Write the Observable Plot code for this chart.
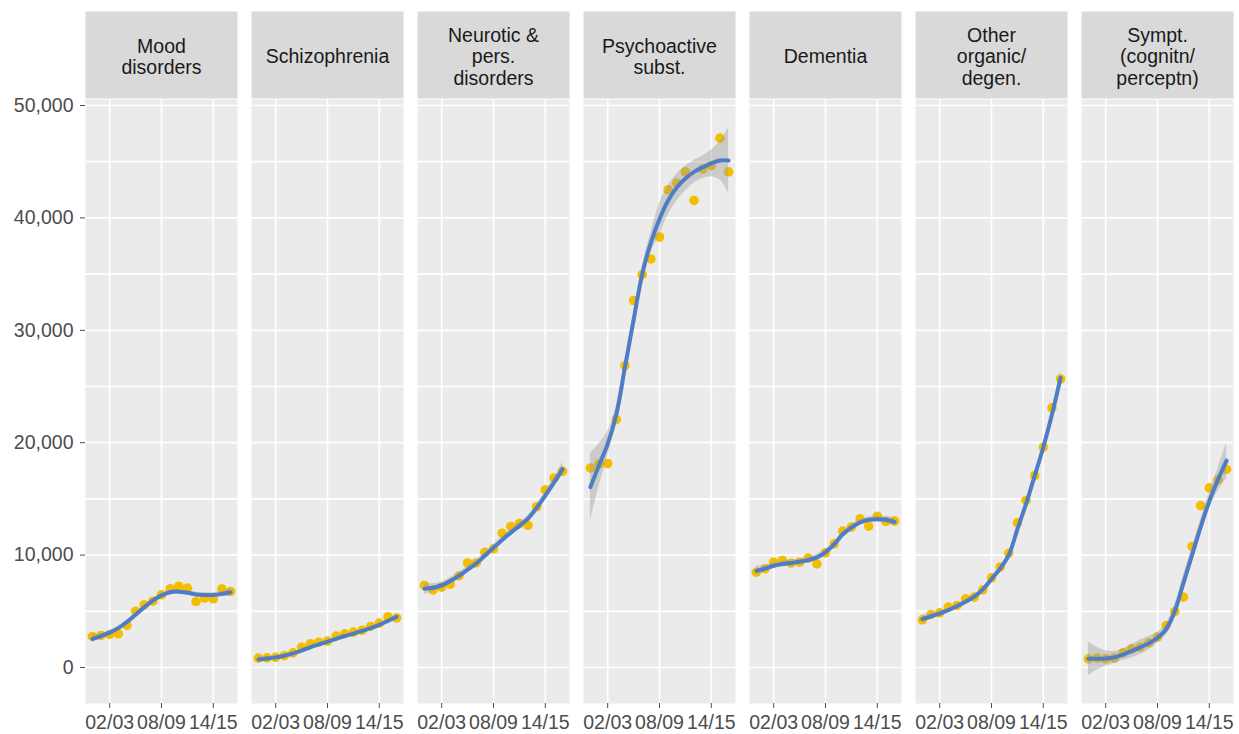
<!DOCTYPE html>
<html>
<head>
<meta charset="utf-8">
<script src="https://cdn.jsdelivr.net/npm/d3@7"></script>
<script src="https://cdn.jsdelivr.net/npm/@observablehq/plot@0.6"></script>
<style>
  body { margin: 0; background: #ffffff; }
  #chart svg { display: block; }
</style>
</head>
<body>
<div id="chart"></div>
<script>
// ---- data ----
const years = [2000, 2001, 2002, 2003, 2004, 2005, 2006, 2007, 2008, 2009, 2010, 2011, 2012, 2013, 2014, 2015, 2016];
const categories = ["Mood\ndisorders", "Schizophrenia", "Neurotic &\npers.\ndisorders", "Psychoactive\nsubst.", "Dementia", "Other\norganic/\ndegen.", "Sympt.\n(cognitn/\nperceptn)"];
const xTicks = [2002, 2008, 2014];
const xTickLabels = ["02/03", "08/09", "14/15"];
const yTicks = [0, 10000, 20000, 30000, 40000, 50000];
const yGrid = [0, 5000, 10000, 15000, 20000, 25000, 30000, 35000, 40000, 45000, 50000];

// observed admissions
const mood       = [2760, 2850, 2940, 3000, 3740, 5010, 5580, 5900, 6470, 7000, 7230, 7060, 5870, 6170, 6110, 7000, 6760];
const schizo     = [830, 860, 900, 1050, 1300, 1800, 2100, 2250, 2350, 2800, 3000, 3150, 3300, 3650, 3950, 4500, 4400];
const neurotic   = [7300, 6900, 7150, 7400, 8150, 9300, 9300, 10250, 10550, 11950, 12550, 12800, 12650, 14300, 15800, 16850, 17450];
const psychoact  = [17750, 18100, 18150, 22050, 26850, 32650, 34950, 36350, 38300, 42500, 43100, 44100, 41550, 44350, 44650, 47100, 44100];
const dementia   = [8480, 8780, 9370, 9520, 9280, 9370, 9730, 9220, 10200, 11000, 12130, 12490, 13230, 12570, 13460, 12990, 13020];
const organic    = [4240, 4720, 4860, 5370, 5520, 6110, 6260, 6910, 7980, 8930, 10170, 12870, 14860, 17080, 19600, 23100, 25680];
const symptoms   = [770, 830, 770, 830, 1300, 1660, 1810, 2200, 2700, 3740, 4980, 6260, 10770, 14410, 15990, 16700, 17620];

// smoothed trend
const moodFit      = [2550, 2800, 3100, 3500, 4050, 4700, 5350, 5950, 6400, 6700, 6750, 6650, 6500, 6450, 6450, 6550, 6700];
const schizoFit    = [720, 800, 900, 1050, 1250, 1500, 1800, 2050, 2300, 2550, 2800, 3000, 3250, 3500, 3800, 4150, 4500];
const neuroticFit  = [7000, 7100, 7300, 7700, 8150, 8700, 9250, 9950, 10650, 11350, 12000, 12600, 13250, 14200, 15300, 16450, 17650];
const psychoactFit = [16050, 18000, 19900, 22500, 26700, 30900, 35000, 37800, 39900, 41550, 42700, 43500, 44100, 44500, 44850, 45100, 45100];
const dementiaFit  = [8600, 8800, 9050, 9200, 9300, 9400, 9550, 9800, 10250, 10950, 11850, 12450, 12900, 13150, 13200, 13150, 12950];
const organicFit   = [4300, 4550, 4800, 5100, 5450, 5850, 6300, 6950, 7850, 8800, 10000, 12300, 14550, 17050, 19600, 22500, 25750];
const symptomsFit  = [780, 780, 800, 900, 1150, 1450, 1800, 2150, 2650, 3400, 5000, 7500, 10000, 12500, 14800, 16700, 18400];

// half-width of the grey confidence band
const moodBand      = [350, 250, 200, 200, 200, 200, 200, 200, 200, 200, 200, 200, 200, 200, 200, 250, 350];
const schizoBand    = [200, 150, 120, 120, 120, 120, 120, 120, 120, 120, 120, 120, 120, 120, 130, 150, 220];
const neuroticBand  = [500, 350, 300, 300, 300, 300, 300, 300, 300, 300, 300, 300, 300, 300, 350, 400, 600];
const psychoactBand = [3000, 1900, 1100, 800, 700, 700, 700, 900, 1400, 1300, 1200, 1100, 1000, 1000, 1200, 1700, 2900];
const dementiaBand  = [400, 300, 280, 260, 260, 260, 260, 260, 260, 260, 260, 260, 260, 260, 260, 300, 400];
const organicBand   = [350, 250, 200, 200, 200, 200, 200, 200, 250, 250, 250, 300, 300, 300, 350, 450, 700];
const symptomsBand  = [1500, 1000, 700, 550, 500, 600, 650, 600, 500, 500, 600, 700, 700, 700, 750, 1000, 1600];

// ---- build tidy table for Plot ----
const valueSets = [mood, schizo, neurotic, psychoact, dementia, organic, symptoms];
const fitSets   = [moodFit, schizoFit, neuroticFit, psychoactFit, dementiaFit, organicFit, symptomsFit];
const bandSets  = [moodBand, schizoBand, neuroticBand, psychoactBand, dementiaBand, organicBand, symptomsBand];
const rows = [];
categories.forEach((cat, k) => {
  years.forEach((yr, i) => {
    rows.push({
      cat, year: yr,
      value: valueSets[k][i],
      fit: fitSets[k][i],
      lo: fitSets[k][i] - bandSets[k][i],
      hi: fitSets[k][i] + bandSets[k][i]
    });
  });
});

const font = "'Liberation Sans', Arial, Helvetica, sans-serif";

const chart = Plot.plot({
  width: 1239,
  height: 734,
  marginTop: 99,
  marginBottom: 31,
  marginLeft: 83,
  marginRight: 3,
  style: { fontFamily: font, fontSize: "19.5px", background: "#ffffff", overflow: "visible" },
  fx: { domain: categories, paddingInner: 0.084, paddingOuter: 0, axis: null, label: null },
  x: { domain: [1999.2, 2016.8], axis: null },
  y: { domain: [-3203, 50534], axis: null },
  marks: [
    // panel background
    Plot.frame({ fill: "#EBEBEB", stroke: null }),
    // strip background (above each panel)
    Plot.frame({ fill: "#D9D9D9", stroke: null, insetTop: -88, insetBottom: 605 }),
    // grid
    Plot.gridY(yGrid, { stroke: "#ffffff", strokeOpacity: 1, strokeWidth: 1.7 }),
    Plot.gridX(xTicks, { stroke: "#ffffff", strokeOpacity: 1, strokeWidth: 1.7 }),
    // strip labels
    Plot.text(categories, {
      fx: d => d, text: d => d, frameAnchor: "top", lineAnchor: "middle", dy: -43,
      fill: "#1A1A1A", fontSize: 19.5, lineHeight: 1.1
    }),
    // axes
    Plot.axisY({
      ticks: yTicks, tickFormat: d3.format(","), tickSize: 5, tickPadding: 7,
      color: "#4D4D4D", fontSize: 19.5, label: null, anchor: "left"
    }),
    Plot.axisX({
      ticks: xTicks, tickFormat: d => xTickLabels[xTicks.indexOf(d)], tickSize: 5, tickPadding: 7,
      color: "#4D4D4D", fontSize: 19.5, label: null, anchor: "bottom"
    }),
    // observed points
    Plot.dot(rows, { fx: "cat", x: "year", y: "value", r: 4.8, fill: "#F4BE00", stroke: null }),
    // smoothing ribbon
    Plot.areaY(rows, { fx: "cat", x: "year", y1: "lo", y2: "hi", fill: "#999999", fillOpacity: 0.4, curve: "catmull-rom" }),
    // smooth line
    Plot.lineY(rows, { fx: "cat", x: "year", y: "fit", stroke: "#4E7DC6", strokeWidth: 4, curve: "catmull-rom" })
  ]
});

document.getElementById("chart").appendChild(chart);
</script>
</body>
</html>
